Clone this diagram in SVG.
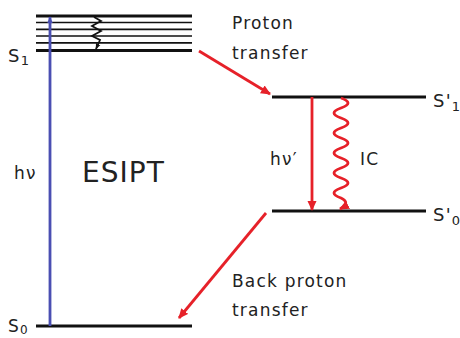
<svg xmlns="http://www.w3.org/2000/svg" width="460" height="338" viewBox="0 0 460 338">
<defs>
<style>
.lvl{stroke:#111;stroke-width:2.8;fill:none}
.sub{stroke:#111;stroke-width:1.7;fill:none}
.red{stroke:#e62129;stroke-width:2.8;fill:none}
.t{font-family:"DejaVu Sans",sans-serif;fill:#222;letter-spacing:1.2px}
</style>
<marker id="ab" viewBox="0 0 10 10" refX="9" refY="5" markerWidth="7" markerHeight="7" orient="auto" markerUnits="userSpaceOnUse">
<path d="M0,1 L10,5 L0,9 z" fill="#4a4fb2"/>
</marker>
<marker id="ak" viewBox="0 0 10 10" refX="9" refY="5" markerWidth="6" markerHeight="6" orient="auto" markerUnits="userSpaceOnUse">
<path d="M0,1 L10,5 L0,9 z" fill="#111"/>
</marker>
<marker id="ar2" viewBox="0 0 10 10" refX="9" refY="5" markerWidth="10" markerHeight="10" orient="auto" markerUnits="userSpaceOnUse">
<path d="M0,0.5 L10,5 L0,9.5 z" fill="#e62129"/>
</marker>
</defs>
<g id="S1">
<line class="lvl" x1="36" y1="16" x2="192" y2="16"/>
<line class="sub" x1="36" y1="22.5" x2="192" y2="22.5"/>
<line class="sub" x1="36" y1="29.3" x2="192" y2="29.3"/>
<line class="sub" x1="36" y1="36" x2="192" y2="36"/>
<line class="sub" x1="36" y1="42.8" x2="192" y2="42.8"/>
<line class="lvl" x1="36" y1="50.5" x2="192" y2="50.5"/>
<text class="t" x="8" y="62" font-size="18">S<tspan font-size="13" dy="3">1</tspan></text>
</g>
<g id="S0">
<line class="lvl" x1="36" y1="326" x2="192" y2="326"/>
<text class="t" x="8" y="332" font-size="17">S<tspan font-size="12" dy="2">0</tspan></text>
</g>
<g id="S1p">
<line class="lvl" x1="272" y1="97" x2="426" y2="97"/>
<text class="t" x="433" y="107" font-size="18">S'<tspan font-size="13" dy="4">1</tspan></text>
</g>
<g id="S0p">
<line class="lvl" x1="272" y1="211" x2="426" y2="211"/>
<text class="t" x="433" y="221" font-size="18">S'<tspan font-size="13" dy="4">0</tspan></text>
</g>
<g id="labels">
<text class="t" x="14" y="179" font-size="17">hν</text>
<text class="t" x="82" y="182" font-size="28" textLength="83">ESIPT</text>
<text class="t" x="232" y="29" font-size="17">Proton</text>
<text class="t" x="232" y="59" font-size="17">transfer</text>
<text class="t" x="270" y="165" font-size="17">hν′</text>
<text class="t" x="360" y="165" font-size="17">IC</text>
<text class="t" x="232" y="287" font-size="17">Back proton</text>
<text class="t" x="232" y="316" font-size="17">transfer</text>
</g>
<g id="connectors">
<line x1="50" y1="326" x2="50" y2="17" stroke="#4a4fb2" stroke-width="2.8" marker-end="url(#ab)"/>
<path d="M94,17 L101,21 L92,26 L101,31 L92,36 L100,40 L96,49" stroke="#111" stroke-width="1.8" fill="none" marker-end="url(#ak)"/>
<line class="red" x1="199" y1="51" x2="270" y2="94" marker-end="url(#ar2)"/>
<line class="red" x1="312" y1="97" x2="312" y2="210" marker-end="url(#ar2)"/>
<path class="red" d="M341,98 q14,5 0,10 q-14,5 0,10 q14,5 0,10 q-14,5 0,10 q14,5 0,10 q-14,5 0,10 q14,5 0,10 q-14,5 0,10 q14,5 0,10 q-14,5 0,10 q10,5 -1,11" marker-end="url(#ar2)"/>
<line class="red" x1="266" y1="213" x2="179" y2="318" marker-end="url(#ar2)"/>
</g>
</svg>
